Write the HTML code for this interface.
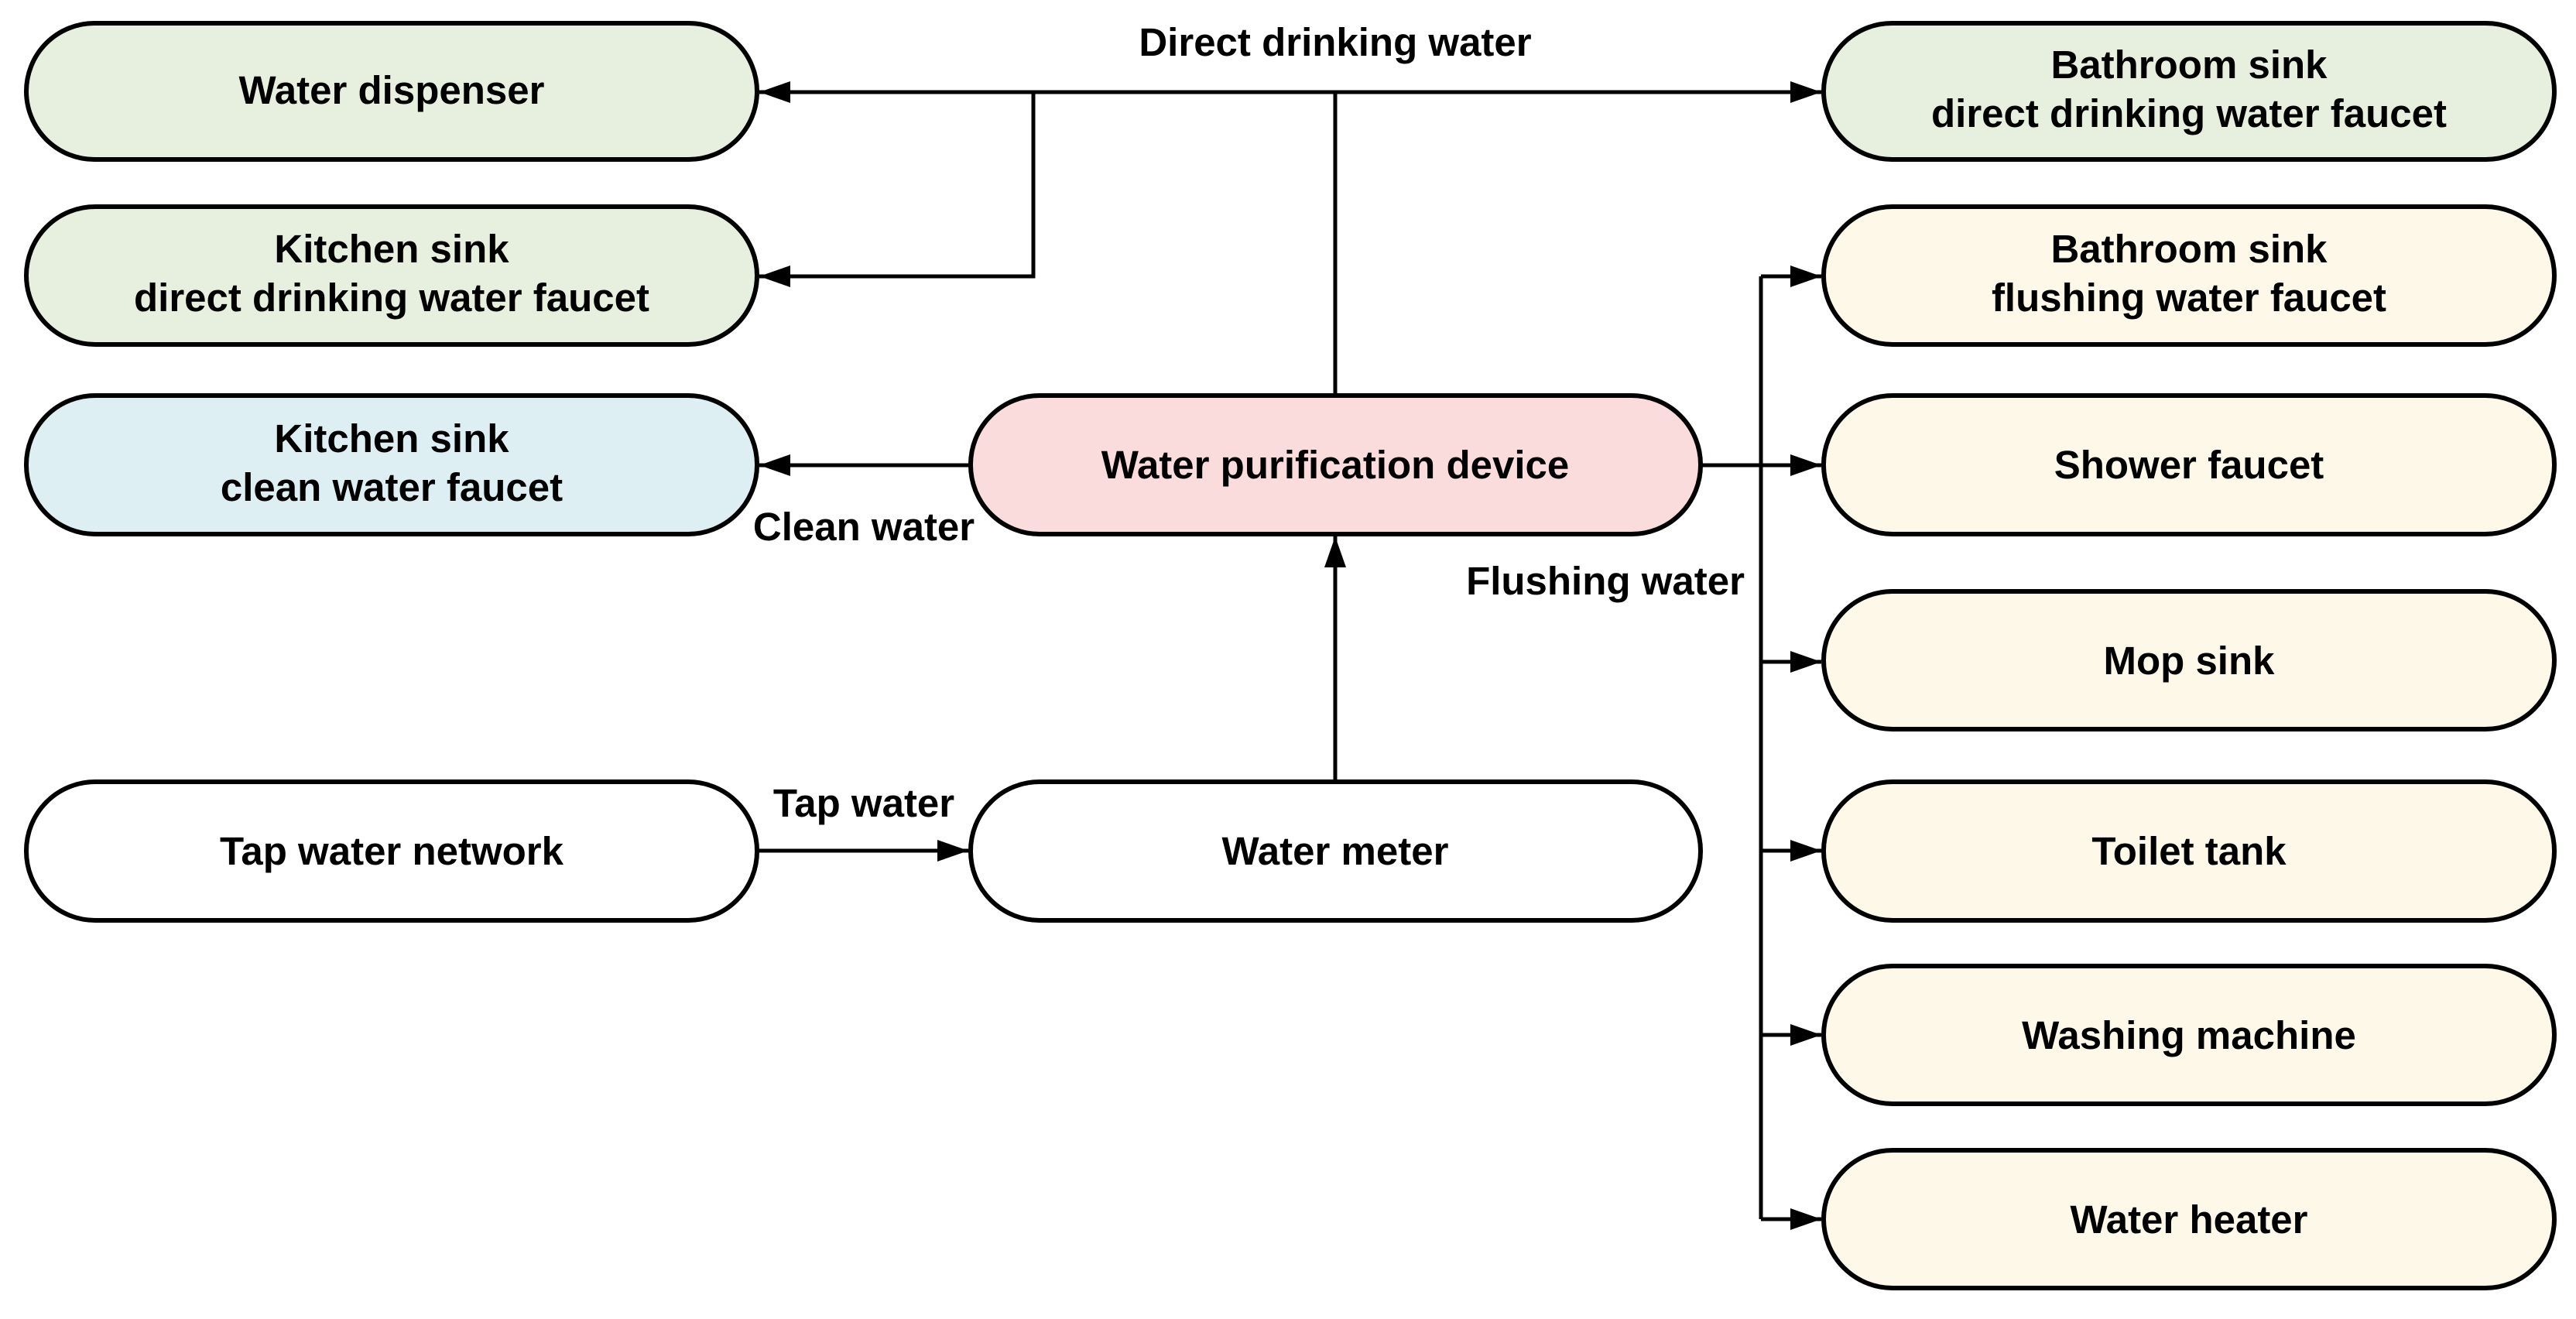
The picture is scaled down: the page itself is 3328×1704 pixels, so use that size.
<!DOCTYPE html>
<html><head><meta charset="utf-8"><style>html,body{margin:0;padding:0;background:#fff}</style></head>
<body>
<svg width="3328" height="1699" viewBox="0 0 3328 1699" xmlns="http://www.w3.org/2000/svg" font-family="Liberation Sans, Arial, sans-serif" font-weight="bold" font-size="51">
<defs>
<marker id="ar" markerWidth="40" markerHeight="28" refX="40" refY="14" orient="auto" markerUnits="userSpaceOnUse"><path d="M0,0 L40,14 L0,28 Z" fill="#000"/></marker></defs>
<g stroke="#000" stroke-width="5" fill="none">
<path d="M1725 510 V119"/>
<path d="M1725 119 H981" marker-end="url(#ar)"/>
<path d="M1725 119 H2353" marker-end="url(#ar)"/>
<path d="M1335 119 V357 H981" marker-end="url(#ar)"/>
<path d="M1254 601 H981" marker-end="url(#ar)"/>
<path d="M978 1099 H1251" marker-end="url(#ar)"/>
<path d="M1725 1010 V693" marker-end="url(#ar)"/>
<path d="M2197 601 H2353" marker-end="url(#ar)"/>
<path d="M2275 357 V1575"/>
<path d="M2275 357 H2353" marker-end="url(#ar)"/>
<path d="M2275 855 H2353" marker-end="url(#ar)"/>
<path d="M2275 1099 H2353" marker-end="url(#ar)"/>
<path d="M2275 1337 H2353" marker-end="url(#ar)"/>
<path d="M2275 1575 H2353" marker-end="url(#ar)"/>
</g>
<g stroke="#000" stroke-width="6">
<rect x="34" y="30" width="944" height="176" rx="88" fill="#e7f0de"/>
<rect x="34" y="267" width="944" height="178" rx="89" fill="#e7f0de"/>
<rect x="34" y="511" width="944" height="179" rx="89" fill="#ddeff3"/>
<rect x="34" y="1010" width="944" height="179" rx="89" fill="#fff"/>
<rect x="1254" y="511" width="943" height="179" rx="89" fill="#f9dcdb"/>
<rect x="1254" y="1010" width="943" height="179" rx="89" fill="#fff"/>
<rect x="2356" y="30" width="944" height="176" rx="88" fill="#e7f0de"/>
<rect x="2356" y="267" width="944" height="178" rx="89" fill="#fdf8e7"/>
<rect x="2356" y="511" width="944" height="179" rx="89" fill="#fdf8e7"/>
<rect x="2356" y="764" width="944" height="178" rx="89" fill="#fdf8e7"/>
<rect x="2356" y="1010" width="944" height="179" rx="89" fill="#fdf8e7"/>
<rect x="2356" y="1248" width="944" height="178" rx="89" fill="#fdf8e7"/>
<rect x="2356" y="1486" width="944" height="178" rx="89" fill="#fdf8e7"/>
</g>
<g text-anchor="middle" fill="#000">
<text x="506" y="134">Water dispenser</text>
<text x="506" y="339">Kitchen sink</text>
<text x="506" y="402">direct drinking water faucet</text>
<text x="506" y="584">Kitchen sink</text>
<text x="506" y="647">clean water faucet</text>
<text x="506" y="1117">Tap water network</text>
<text x="1725" y="618">Water purification device</text>
<text x="1725" y="1117">Water meter</text>
<text x="2828" y="101">Bathroom sink</text>
<text x="2828" y="164">direct drinking water faucet</text>
<text x="2828" y="339">Bathroom sink</text>
<text x="2828" y="402">flushing water faucet</text>
<text x="2828" y="618">Shower faucet</text>
<text x="2828" y="871">Mop sink</text>
<text x="2828" y="1117">Toilet tank</text>
<text x="2828" y="1355">Washing machine</text>
<text x="2828" y="1593">Water heater</text>
<text x="1725" y="72">Direct drinking water</text>
<text x="1116" y="698">Clean water</text>
<text x="1116" y="1055">Tap water</text>
<text x="2074" y="768">Flushing water</text>
</g>
</svg>
</body></html>
